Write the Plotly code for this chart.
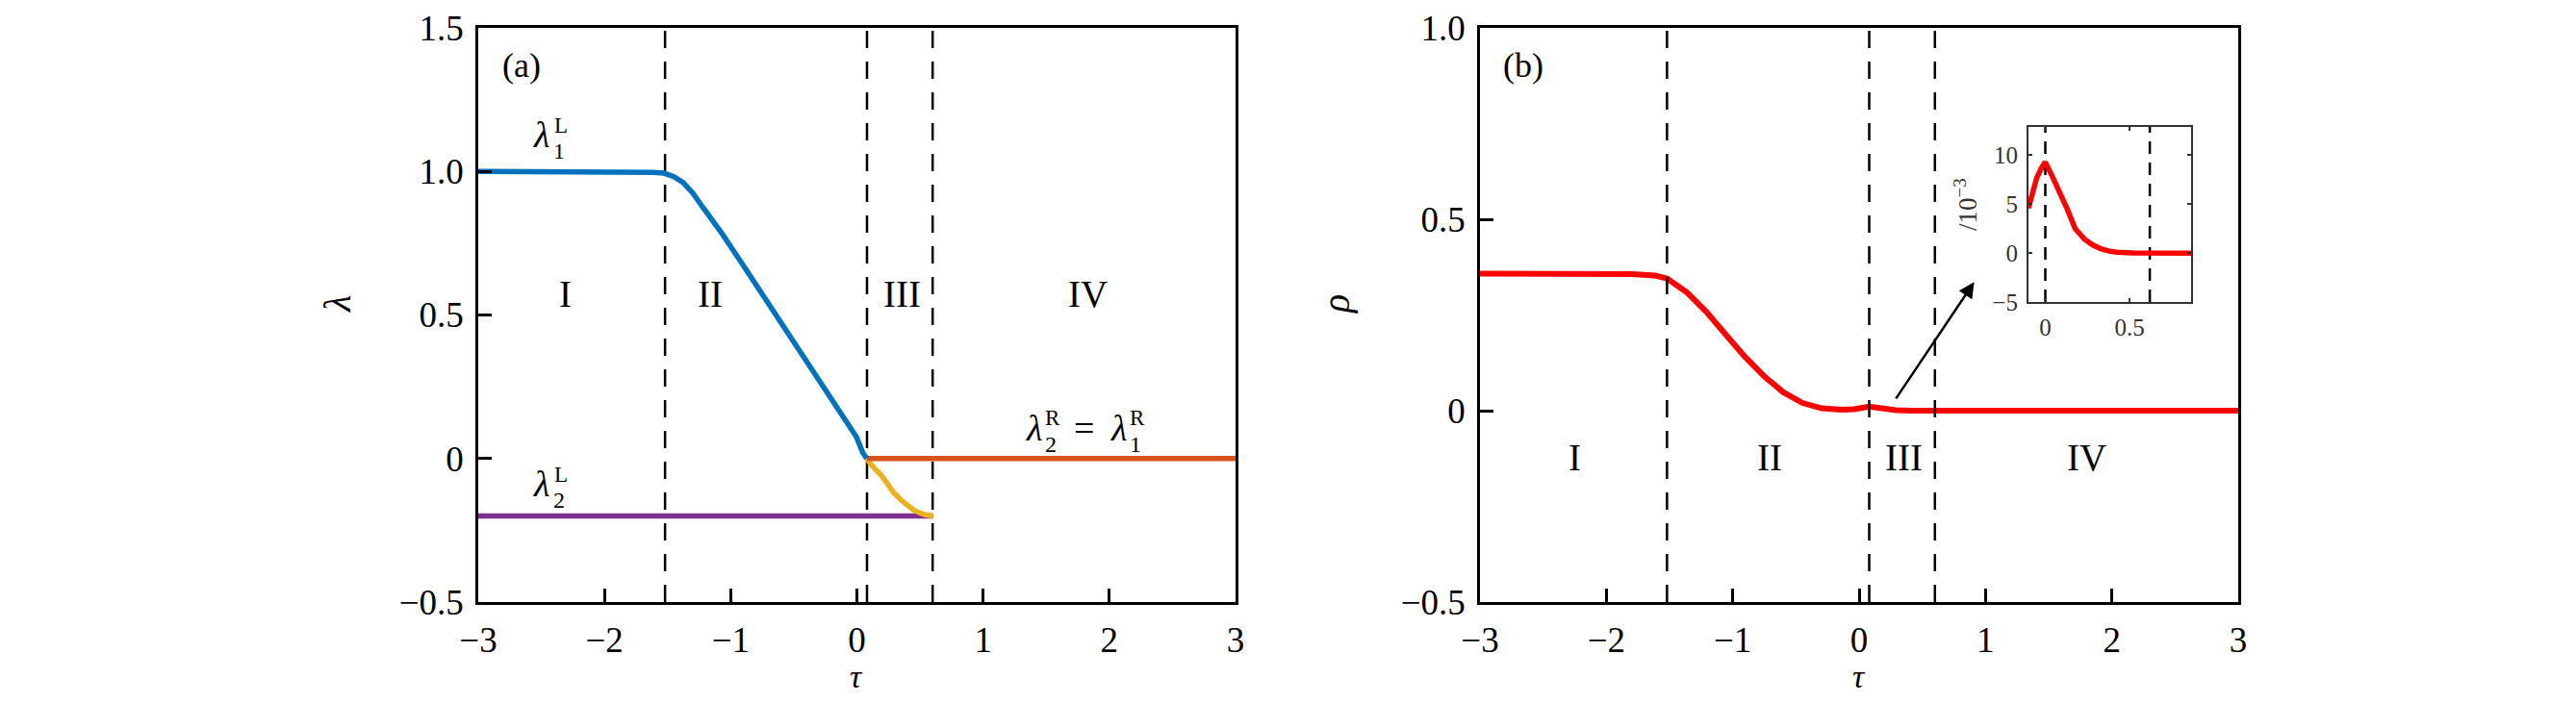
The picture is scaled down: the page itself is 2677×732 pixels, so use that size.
import plotly.graph_objects as go

# ---------------- data ----------------
boundaries = [-1.52, 0.08, 0.60]

tau_l1 = [-3.0, -2.5, -2.0, -1.8, -1.7, -1.614, -1.529, -1.45, -1.376, -1.3, -1.224,
          -1.071, -0.919, -0.766, -0.614, -0.461, -0.309, -0.156, -0.004, 0.047, 0.078]
lam_l1 = [1.0, 1.0, 1.0, 1.0, 0.999, 0.997, 0.994, 0.982, 0.961, 0.925, 0.877,
          0.785, 0.685, 0.583, 0.481, 0.380, 0.279, 0.178, 0.075, 0.020, 0.0]

tau_l2 = [-3.0, 0.603]
lam_l2 = [-0.2, -0.2]

tau_y = [0.078, 0.12, 0.2, 0.288, 0.35, 0.397, 0.45, 0.485, 0.54, 0.603]
lam_y = [0.0, -0.025, -0.062, -0.117, -0.145, -0.164, -0.18, -0.187, -0.196, -0.2]

tau_r = [0.078, 3.0]
lam_r = [0.0, 0.0]

tau_rho = [-3.0, -2.5, -2.0, -1.8, -1.614, -1.517, -1.36, -1.208, -1.056, -0.904, -0.751,
           -0.599, -0.447, -0.295, -0.142, -0.041, 0.081, 0.163, 0.29, 0.416, 0.6, 1.0, 2.0, 3.0]
rho = [0.358, 0.358, 0.358, 0.357, 0.353, 0.345, 0.308, 0.258, 0.199, 0.141, 0.090,
       0.048, 0.020, 0.006, 0.0025, 0.004, 0.0105, 0.006, 0.0015, 0.0, 0.0, 0.0, 0.0, 0.0]

tau_in = [-0.1, -0.075, -0.051, -0.023, 0.0, 0.04, 0.082, 0.13, 0.177, 0.234, 0.28,
          0.329, 0.38, 0.424, 0.52, 0.6, 0.7, 0.865]
rho_in = [4.6, 6.2, 7.7, 8.7, 9.3, 7.9, 6.4, 4.5, 2.5, 1.4, 0.85,
          0.45, 0.2, 0.1, 0.02, 0.0, 0.0, 0.0]
inset_bounds = [0.0, 0.62]

x_ticks = [-3, -2, -1, 0, 1, 2, 3]
x_ticktext = ["\u22123", "\u22122", "\u22121", "0", "1", "2", "3"]
ya_ticks = [-0.5, 0, 0.5, 1.0, 1.5]
ya_ticktext = ["\u22120.5", "0", "0.5", "1.0", "1.5"]
yb_ticks = [-0.5, 0, 0.5, 1.0]
yb_ticktext = ["\u22120.5", "0", "0.5", "1.0"]
in_xticks = [0, 0.5]
in_xticktext = ["0", "0.5"]
in_yticks = [-5, 0, 5, 10]
in_yticktext = ["\u22125", "0", "5", "10"]

regions = ["I", "II", "III", "IV"]

# ---------------- style ----------------
# page body has an 8px default margin: figure is sized to fit inside the window
OFF = 8
W, H = 2677 - 2 * OFF, 732 - 2 * OFF
FONT = "Liberation Serif, Times New Roman, DejaVu Serif, serif"
BLUE, PURPLE, YELLOW, ORANGE, RED = "#0072BD", "#7E2F8E", "#EDB120", "#D95319", "#FF0000"
LW = 5.5
DASH = "18px,14px"


def px(xs):
    """screen x pixel -> paper fraction"""
    return (xs - OFF) / W


def py(ys):
    """screen y pixel (from top) -> paper fraction"""
    return 1 - (ys - OFF) / H


fig = go.Figure()

# panel (a) dashed boundaries
for b in boundaries:
    fig.add_trace(go.Scatter(x=[b, b], y=[-0.5, 1.5], mode="lines", xaxis="x", yaxis="y",
                             line=dict(color="black", width=2.5, dash=DASH), hoverinfo="skip"))
fig.add_trace(go.Scatter(x=tau_l2, y=lam_l2, mode="lines", line=dict(color=PURPLE, width=LW)))
fig.add_trace(go.Scatter(x=tau_y, y=lam_y, mode="lines", line=dict(color=YELLOW, width=LW)))
fig.add_trace(go.Scatter(x=tau_r, y=lam_r, mode="lines", line=dict(color=ORANGE, width=LW)))
fig.add_trace(go.Scatter(x=tau_l1, y=lam_l1, mode="lines", line=dict(color=BLUE, width=LW)))

# panel (b)
fig.add_trace(go.Scatter(x=tau_rho, y=rho, mode="lines", xaxis="x2", yaxis="y2",
                         line=dict(color=RED, width=LW + 0.5)))
for b in boundaries:
    fig.add_trace(go.Scatter(x=[b, b], y=[-0.5, 1.0], mode="lines", xaxis="x2", yaxis="y2",
                             line=dict(color="black", width=2.5, dash=DASH), hoverinfo="skip"))

# inset
for b in inset_bounds:
    fig.add_trace(go.Scatter(x=[b, b], y=[-5, 12.9], mode="lines", xaxis="x3", yaxis="y3",
                             line=dict(color="black", width=2.5, dash="13px,9px"), hoverinfo="skip"))
fig.add_trace(go.Scatter(x=tau_in, y=rho_in, mode="lines", xaxis="x3", yaxis="y3",
                         line=dict(color=RED, width=5.5)))

# ---------------- axes ----------------
def main_axis(domain, rng, tv, tt, anchor):
    return dict(domain=domain, range=rng, tickvals=tv, ticktext=tt, anchor=anchor,
                ticks="inside", ticklen=14, tickwidth=2.5, tickcolor="black",
                showline=True, linewidth=2.5, linecolor="black", mirror=True,
                showgrid=False, zeroline=False, ticklabelstandoff=5, automargin=False,
                tickfont=dict(family=FONT, size=37, color="black"))

ydom = [py(626), py(29)]
xa_dom = [px(497), px(1284)]
xb_dom = [px(1538), px(2326)]

layout = dict(
    width=W, height=H, margin=dict(l=0, r=0, t=0, b=0, pad=0, autoexpand=False),
    paper_bgcolor="white", plot_bgcolor="white", showlegend=False,
    font=dict(family=FONT),
    xaxis=main_axis(xa_dom, [-3, 3], x_ticks, x_ticktext, "y"),
    yaxis=main_axis(ydom, [-0.5, 1.5], ya_ticks, ya_ticktext, "x"),
    xaxis2=main_axis(xb_dom, [-3, 3], x_ticks, x_ticktext, "y2"),
    yaxis2=main_axis(ydom, [-0.5, 1.0], yb_ticks, yb_ticktext, "x2"),
    xaxis3=dict(domain=[px(2108), px(2277)], range=[-0.1, 0.865], anchor="y3",
                tickvals=in_xticks, ticktext=in_xticktext, ticks="inside", ticklen=4,
                tickwidth=2, tickcolor="#333", showline=True, linewidth=2.2, linecolor="#333",
                mirror="ticks", showgrid=False, zeroline=False, ticklabelstandoff=3,
                automargin=False, tickfont=dict(family=FONT, size=25, color="#333")),
    yaxis3=dict(domain=[py(314), py(132)], range=[-5, 12.9], anchor="x3",
                tickvals=in_yticks, ticktext=in_yticktext, ticks="inside", ticklen=4,
                tickwidth=2, tickcolor="#333", showline=True, linewidth=2.2, linecolor="#333",
                mirror="ticks", showgrid=False, zeroline=False, ticklabelstandoff=4,
                automargin=False, tickfont=dict(family=FONT, size=25, color="#333")),
)
fig.update_layout(**layout)

ann = []

def txt(x, y, text, size=38, xref="x", yref="y", angle=0, color="black", xshift=0, yshift=0):
    ann.append(dict(x=x, y=y, xref=xref, yref=yref, text=text, showarrow=False,
                    textangle=angle, xanchor="center", yanchor="middle",
                    xshift=xshift, yshift=yshift,
                    font=dict(family=FONT, size=size, color=color)))

def lam(x, y, sub, sup, xref="x", yref="y"):
    txt(x, y, "<i>\u03bb</i>", 38, xref, yref)
    txt(x, y, sup, 23, xref, yref, xshift=20, yshift=10)
    txt(x, y, sub, 24, xref, yref, xshift=18, yshift=-17)

# panel (a) labels
txt(-2.66, 1.37, "(a)", 36)
region_x_a = [-2.31, -1.164, 0.355, 1.83]
for r, xx in zip(regions, region_x_a):
    txt(xx, 0.575, r, 39)
lam(-2.50, 1.128, "1", "L")
lam(-2.50, -0.088, "2", "L")
lam(1.40, 0.107, "2", "R")
txt(1.80, 0.107, "=", 38)
lam(2.07, 0.107, "1", "R")

# panel (b) labels
txt(-2.655, 0.903, "(b)", 36, "x2", "y2")
region_x_b = [-2.248, -0.708, 0.356, 1.80]
for r, xx in zip(regions, region_x_b):
    txt(xx, -0.121, r, 39, "x2", "y2")

# axis titles
txt(px(350), py(316), "<i>\u03bb</i>", 40, "paper", "paper", angle=-90)
txt(px(1388), py(317), "<i>\u03c1</i>", 40, "paper", "paper", angle=-90)
txt(px(890), py(703), "<i>\u03c4</i>", 34, "paper", "paper")
txt(px(1932), py(703), "<i>\u03c4</i>", 34, "paper", "paper")
txt(px(2043), py(213), "/10<sup>\u22123</sup>", 27, "paper", "paper", angle=-90, color="#333")

# arrow
ann.append(dict(x=0.911, y=0.336, ax=0.284, ay=0.028, xref="x2", yref="y2",
                axref="x2", ayref="y2", showarrow=True, arrowhead=2, arrowsize=1.3,
                arrowwidth=2.5, arrowcolor="black", text=""))

fig.update_layout(annotations=ann)
fig.write_html("out.html")
